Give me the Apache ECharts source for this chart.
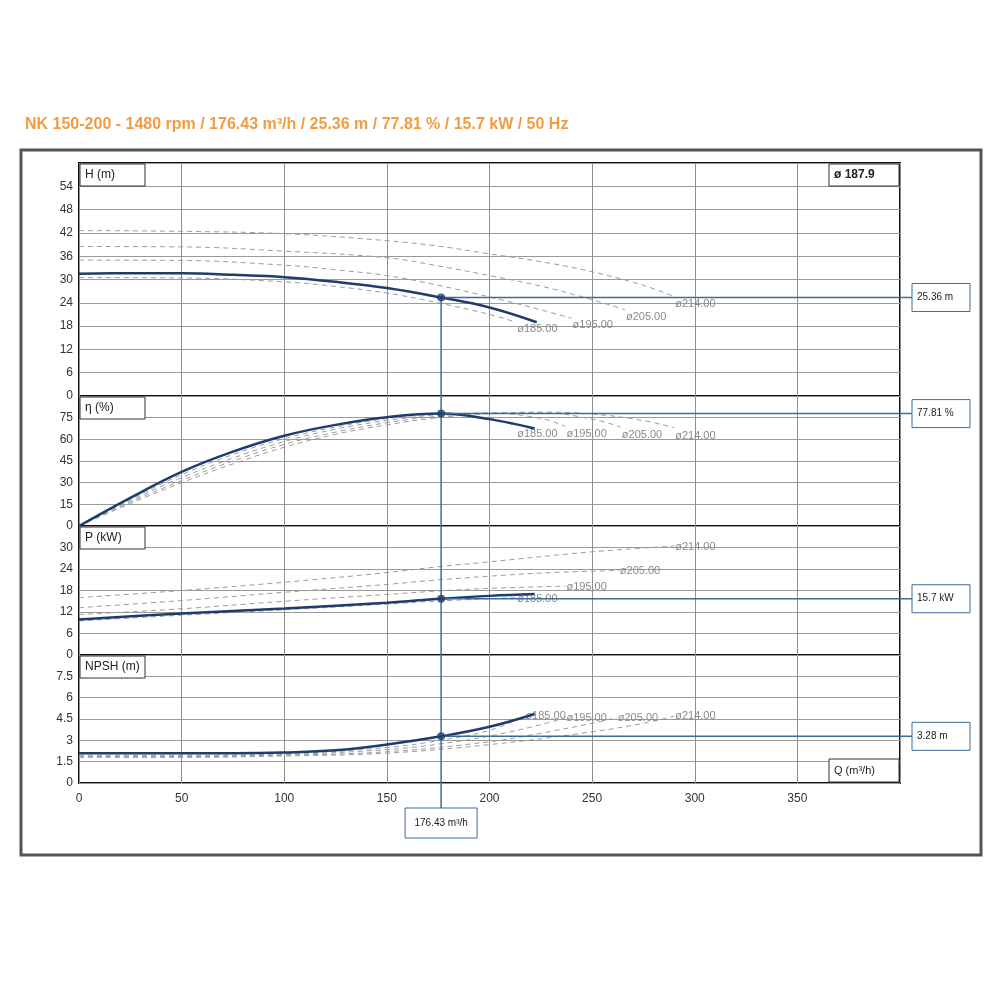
<!DOCTYPE html>
<html>
<head>
<meta charset="utf-8">
<script src="https://cdn.jsdelivr.net/npm/echarts@6/dist/echarts.min.js"></script>
<style>
html, body { margin: 0; background: #fff; }
#chart { width: 1000px; height: 1000px; }
</style>
</head>
<body>
<div id="chart"></div>
<script>
// curve data: [Q (m3/h), value]
var diameters = ["ø185.00", "ø195.00", "ø205.00", "ø214.00"];
var xTicks = [0, 50, 100, 150, 200, 250, 300, 350];

var headBlue = [[0, 31.5], [25, 31.6], [50, 31.6], [75, 31.2], [100, 30.6], [125, 29.4], [150, 27.8], [176.43, 25.36], [200, 22.8], [223, 19.0]];
var head185 = [[0, 30.5], [50, 30.4], [100, 29.4], [125, 28.2], [150, 26.5], [175, 24.0], [200, 21.0], [213, 19.0]];
var head195 = [[0, 35.0], [50, 34.9], [100, 33.7], [125, 32.5], [150, 31.0], [175, 28.5], [200, 25.5], [225, 22.2], [240, 20.0]];
var head205 = [[0, 38.5], [50, 38.4], [100, 37.3], [150, 35.6], [175, 33.5], [200, 31.0], [225, 28.3], [250, 24.8], [266, 22.2]];
var head214 = [[0, 42.6], [50, 42.4], [100, 41.8], [150, 40.0], [175, 38.6], [200, 36.6], [225, 34.6], [250, 32.0], [275, 28.5], [290, 25.6]];

var effBlue = [[0, 0], [25, 19.5], [50, 37.5], [75, 51.5], [100, 62.5], [125, 70], [150, 75.3], [176.43, 77.81], [200, 74], [222, 67.5]];
var eff185 = [[0, 0], [25, 18.5], [50, 35.5], [75, 49.5], [100, 60.5], [125, 68.5], [150, 74.3], [175, 77.2], [200, 74.5], [213, 69]];
var eff195 = [[0, 0], [25, 17.5], [50, 33.5], [75, 47], [100, 58.5], [125, 67], [150, 73], [175, 77], [200, 78.2], [225, 74.5], [237, 69]];
var eff205 = [[0, 0], [25, 16.5], [50, 31.5], [75, 45], [100, 56.5], [125, 65], [150, 71.5], [175, 76], [200, 78.3], [225, 78.5], [250, 74], [264, 68.5]];
var eff214 = [[0, 0], [25, 15.5], [50, 30], [75, 43], [100, 54.5], [125, 63.5], [150, 70], [175, 75], [200, 77.8], [225, 78.8], [250, 77.5], [275, 73], [290, 68]];

var powBlue = [[0, 9.9], [50, 11.6], [100, 13.0], [150, 14.6], [176.43, 15.7], [200, 16.5], [222, 17.0]];
var pow185 = [[0, 9.5], [50, 11.1], [100, 12.6], [150, 14.2], [176, 15.1], [213, 16.0]];
var pow195 = [[0, 11.3], [50, 12.9], [100, 15.0], [150, 16.9], [176, 17.9], [200, 18.6], [237, 19.2]];
var pow205 = [[0, 13.2], [50, 15.2], [100, 17.5], [150, 19.7], [176, 21.0], [200, 22.0], [230, 23.0], [263, 23.6]];
var pow214 = [[0, 16.0], [50, 18.0], [100, 20.3], [150, 23.0], [176, 24.7], [200, 26.0], [250, 28.8], [290, 30.4]];

var npshBlue = [[0, 2.1], [25, 2.1], [50, 2.1], [75, 2.1], [100, 2.15], [125, 2.3], [150, 2.7], [176.43, 3.28], [200, 3.95], [222, 4.85]];
var npsh185 = [[0, 1.95], [50, 1.95], [100, 2.05], [150, 2.5], [176, 3.0], [200, 3.7], [217, 4.7]];
var npsh195 = [[0, 1.9], [50, 1.9], [100, 2.0], [150, 2.35], [176, 2.75], [200, 3.3], [225, 4.1], [237, 4.6]];
var npsh205 = [[0, 1.85], [50, 1.85], [100, 1.95], [150, 2.2], [200, 2.9], [225, 3.5], [250, 4.2], [262, 4.6]];
var npsh214 = [[0, 1.8], [50, 1.8], [100, 1.9], [150, 2.1], [200, 2.7], [250, 3.6], [275, 4.2], [290, 4.7]];

// duty point
var opQ = 176.43;
var opValues = [25.36, 77.81, 15.7, 3.28];
var opLabels = ["25.36 m", "77.81 %", "15.7 kW", "3.28 m"];
var opQLabel = "176.43 m³/h";

var titleText = "NK 150-200 - 1480 rpm / 176.43 m³/h / 25.36 m / 77.81 % / 15.7 kW / 50 Hz";
var panelNames = ["H (m)", "η (%)", "P (kW)", "NPSH (m)"];
var yMax = [60, 90, 36, 9];
var yStep = [6, 15, 6, 1.5];

// layout
var panelTops = [163, 396, 526, 655];
var panelHeights = [233, 130, 129, 128];
var plotLeft = 79, plotRight = 900;
var font = "Liberation Sans";
var blue = "#1d3d6b";
var opBlue = "#3e6b99";

var curves = [
	[headBlue, head185, head195, head205, head214],
	[effBlue, eff185, eff195, eff205, eff214],
	[powBlue, pow185, pow195, pow205, pow214],
	[npshBlue, npsh185, npsh195, npsh205, npsh214]
];
var labelOffsets = [[0, 7], [0, 8], [0, 1], [0, 0]];

var chart = echarts.init(document.getElementById("chart"));

var grids = [], xAxes = [], yAxes = [], series = [];
panelTops.forEach(function (top, i) {
	grids.push({
		left: plotLeft, right: 1000 - plotRight, top: top, height: panelHeights[i],
		show: true, borderColor: "#111", borderWidth: 2, backgroundColor: "#fff"
	});
	xAxes.push({
		type: "value", gridIndex: i, min: 0, max: 400, interval: 50,
		axisLine: { show: false }, axisTick: { show: false },
		axisLabel: {
			show: i === 3, fontFamily: font, fontSize: 12, color: "#333", margin: 10,
			formatter: function (v) { return xTicks.indexOf(v) >= 0 ? String(v) : ""; }
		},
		splitLine: { lineStyle: { color: "#8f8f8f", width: 1 } }
	});
	yAxes.push({
		type: "value", gridIndex: i, min: 0, max: yMax[i], interval: yStep[i],
		axisLine: { show: false }, axisTick: { show: false },
		axisLabel: {
			fontFamily: font, fontSize: 12, color: "#333", margin: 6,
			formatter: function (v) { return v >= yMax[i] ? "" : String(v); }
		},
		splitLine: { lineStyle: { color: "#9a9a9a", width: 1 } }
	});
	curves[i].slice(1).forEach(function (pts, k) {
		series.push({
			type: "line", xAxisIndex: i, yAxisIndex: i, data: pts, smooth: 0.4,
			symbol: "none", silent: true, z: 2,
			lineStyle: { color: "#9c9c9c", width: 1, type: [5, 4] },
			endLabel: {
				show: true, formatter: diameters[k], color: "#8a8a8a",
				fontFamily: font, fontSize: 11, distance: 1, offset: labelOffsets[i]
			}
		});
	});
	series.push({
		type: "line", xAxisIndex: i, yAxisIndex: i, data: curves[i][0], smooth: 0.4,
		symbol: "none", silent: true, z: 3,
		lineStyle: { color: blue, width: 2.5 }
	});
	series.push({
		type: "scatter", xAxisIndex: i, yAxisIndex: i, data: [[opQ, opValues[i]]],
		symbolSize: 8, itemStyle: { color: blue }, silent: true, z: 5
	});
});

chart.setOption({
	animation: false,
	grid: grids,
	xAxis: xAxes,
	yAxis: yAxes,
	series: series
});

function box(x, y, w, h, text, opts) {
	opts = opts || {};
	return {
		type: "group", z: 20,
		children: [
			{ type: "rect", shape: { x: x, y: y, width: w, height: h },
				style: { fill: "#fff", stroke: opts.stroke || "#333", lineWidth: opts.lineWidth || 1 } },
			{ type: "text", x: opts.align === "center" ? x + w / 2 : x + 5, y: y + h / 2,
				style: { text: text, fontFamily: font, fontSize: opts.fontSize || 11,
					fontWeight: opts.bold ? "bold" : "normal", fill: "#222",
					align: opts.align || "left", verticalAlign: "middle" } }
		]
	};
}

var graphics = [];
graphics.push({
	type: "rect", shape: { x: 21, y: 150, width: 960, height: 705 },
	style: { fill: null, stroke: "#555", lineWidth: 3 }, z: 20
});
graphics.push({
	type: "text", x: 25, y: 117,
	style: { text: titleText, fontFamily: font, fontSize: 16, fontWeight: "bold", fill: "#f39b3f" }
});
panelTops.forEach(function (top, i) {
	graphics.push(box(plotLeft + 1, top + 1, 65, 22, panelNames[i], { fontSize: 12 }));
});
graphics.push(box(plotRight - 71, panelTops[0] + 1, 70, 22, "ø 187.9", { fontSize: 12, bold: true }));
var npshBottom = panelTops[3] + panelHeights[3];
graphics.push(box(plotRight - 71, npshBottom - 24, 70, 23, "Q (m³/h)", { fontSize: 11 }));

var topPt = chart.convertToPixel({ gridIndex: 0 }, [opQ, opValues[0]]);
var boxTop = 808;
graphics.push({
	type: "line", shape: { x1: topPt[0], y1: topPt[1], x2: topPt[0], y2: boxTop },
	style: { stroke: opBlue, lineWidth: 1.5 }, z: 4
});
graphics.push(box(topPt[0] - 36, boxTop, 72, 30, opQLabel, { stroke: opBlue, align: "center", fontSize: 10 }));
opValues.forEach(function (v, i) {
	var p = chart.convertToPixel({ gridIndex: i }, [opQ, v]);
	graphics.push({
		type: "line", shape: { x1: p[0], y1: p[1], x2: 912, y2: p[1] },
		style: { stroke: opBlue, lineWidth: 1.5 }, z: 4
	});
	graphics.push(box(912, p[1] - 14, 58, 28, opLabels[i], { stroke: opBlue, fontSize: 10 }));
});

chart.setOption({ graphic: graphics });
</script>
</body>
</html>
